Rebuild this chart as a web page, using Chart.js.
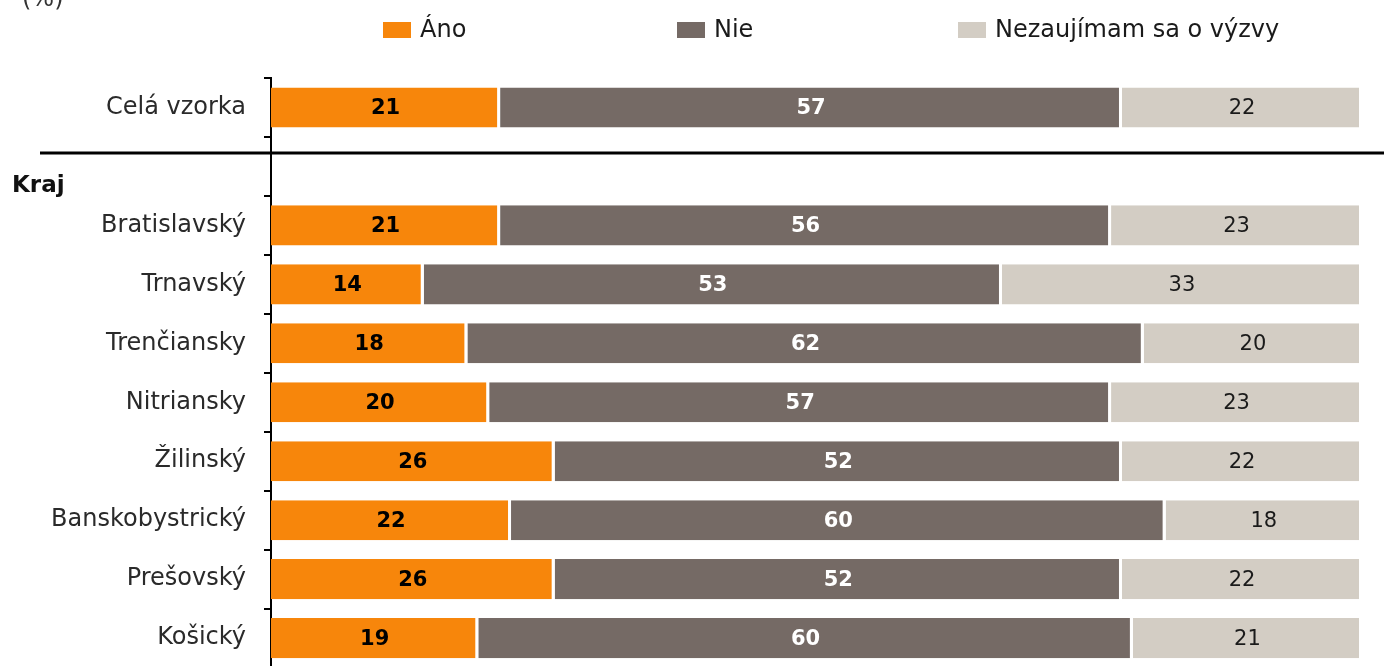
<!DOCTYPE html>
<html>
<head>
<meta charset="utf-8">
<script src="https://cdn.jsdelivr.net/npm/chart.js@4/dist/chart.umd.min.js"></script>
<style>
  html, body { margin: 0; padding: 0; background: #fff; overflow: hidden; }
  #wrap { position: relative; width: 1384px; height: 700px; }
</style>
</head>
<body>
<div id="wrap"><canvas id="krajChart"></canvas></div>
<script>
// kategórie (prázdny riadok oddeľuje celú vzorku od krajov)
const kategorie = ['Celá vzorka', '', 'Bratislavský', 'Trnavský', 'Trenčiansky', 'Nitriansky',
  'Žilinský', 'Banskobystrický', 'Prešovský', 'Košický'];
const ano = [21, null, 21, 14, 18, 20, 26, 22, 26, 19];
const nie = [57, null, 56, 53, 62, 57, 52, 60, 52, 60];
const nezaujimam = [22, null, 23, 33, 20, 23, 22, 18, 22, 21];
const nazvySerii = ['Áno', 'Nie', 'Nezaujímam sa o výzvy'];
const farby = ['#f7860b', '#756a65', '#d3cdc4'];
const farbyHodnot = ['#000000', '#ffffff', '#1a1a1a'];
const hrubeHodnoty = [true, true, false];

const FONT = '"DejaVu Sans", Verdana, sans-serif';

// legenda, hodnoty v stĺpcoch, deliaca čiara a nadpisy
const popisky = {
    id: 'popisky',
    afterDatasetsDraw(chart) {
        const ctx = chart.ctx;
        ctx.save();
        ctx.textAlign = 'center';
        ctx.textBaseline = 'middle';
        chart.data.datasets.forEach(function(ds, i) {
            const meta = chart.getDatasetMeta(i);
            ctx.font = (hrubeHodnoty[i] ? 'bold ' : '') + '21px ' + FONT;
            ctx.fillStyle = farbyHodnot[i];
            meta.data.forEach(function(bar, j) {
                const v = ds.data[j];
                if (v === null || v === undefined) return;
                const p = bar.getCenterPoint();
                ctx.fillText(String(v), p.x, p.y + 1);
            });
        });
        ctx.restore();
    },
    afterDraw(chart) {
        const ctx = chart.ctx;
        const y = chart.scales.y;
        ctx.save();
        // deliaca čiara pod celou vzorkou
        const yLine = Math.round(y.getPixelForValue(0.75)) + 1;
        ctx.strokeStyle = '#000';
        ctx.lineWidth = 3;
        ctx.beginPath();
        ctx.moveTo(40, yLine);
        ctx.lineTo(chart.width, yLine);
        ctx.stroke();

        // nadpis skupiny
        ctx.fillStyle = '#111';
        ctx.font = 'bold 23px ' + FONT;
        ctx.textAlign = 'left';
        ctx.textBaseline = 'alphabetic';
        ctx.fillText('Kraj', 12, y.getPixelForValue(1.28) + 9);

        // jednotka
        ctx.font = '24px ' + FONT;
        ctx.fillStyle = '#333';
        ctx.fillText('(%)', 22, 6);

        // legenda
        const legX = [383, 677, 958];
        ctx.font = '24px ' + FONT;
        ctx.textBaseline = 'middle';
        chart.data.datasets.forEach(function(ds, i) {
            ctx.fillStyle = ds.backgroundColor;
            ctx.fillRect(legX[i], 22, 28, 16);
            ctx.fillStyle = '#1a1a1a';
            ctx.fillText(ds.label, legX[i] + 37, 31);
        });
        ctx.restore();
    }
};

const ctx = document.getElementById('krajChart').getContext('2d');
const krajChart = new Chart(ctx, {
    type: 'bar',
    data: {
        labels: kategorie,
        datasets: [ano, nie, nezaujimam].map(function(d, i) {
            return {
                label: nazvySerii[i],
                data: d,
                backgroundColor: farby[i],
                borderColor: '#ffffff',
                borderWidth: { top: 0, right: 3, bottom: 0, left: 0 },
                borderSkipped: false,
                categoryPercentage: 1,
                barPercentage: 0.68
            };
        })
    },
    options: {
        indexAxis: 'y',
        responsive: true,
        maintainAspectRatio: false,
        animation: false,
        layout: { padding: { top: 78, right: 22, bottom: 28, left: 0 } },
        plugins: {
            legend: { display: false },
            tooltip: { enabled: false }
        },
        scales: {
            x: {
                stacked: true,
                min: 0,
                max: 100,
                display: false
            },
            y: {
                stacked: true,
                afterFit: function(scale) { scale.width = 271; },
                border: { display: true, color: '#000', width: 2 },
                grid: {
                    offset: true,
                    drawOnChartArea: false,
                    drawTicks: true,
                    tickLength: 7,
                    color: '#000',
                    lineWidth: 2
                },
                ticks: {
                    color: '#2a2a2a',
                    padding: 18,
                    font: { family: FONT, size: 24 }
                }
            }
        }
    },
    plugins: [popisky]
});
</script>
</body>
</html>
